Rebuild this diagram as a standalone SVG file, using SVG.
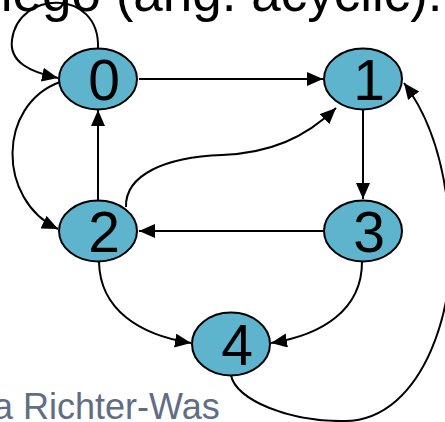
<svg xmlns="http://www.w3.org/2000/svg" width="445" height="422" viewBox="0 0 445 422">
<style>
.node{fill:#5DB4CC;stroke:#000;stroke-width:2}
.lbl{font-family:"Liberation Sans",Arial,sans-serif;font-size:57px;fill:#000;text-anchor:middle}
.edge{fill:none;stroke:#000;stroke-width:2;marker-end:url(#arr)}
.title{font-family:"Liberation Sans",Arial,sans-serif;font-size:53px;fill:#000}
.author{font-family:"Liberation Sans",Arial,sans-serif;font-size:36px;fill:#5F6D87}
</style>
<defs>
<marker id="arr" markerUnits="userSpaceOnUse" markerWidth="17" markerHeight="15" refX="16" refY="7" orient="auto">
<path d="M0,0 L16,7 L0,14 z" fill="#000"/>
</marker>
</defs>
<text class="title" x="-17" y="11">nego (ang. acyclic):</text>
<text class="author" x="-7" y="419">a Richter-Was</text>
<g id="connectors">
<path class="edge" d="M98,48 C100,-12 18,-10 12,40 C9,62 30,72 58,78"/>
<path class="edge" d="M139,79 L323,79"/>
<path class="edge" d="M363,110 L363,199"/>
<path class="edge" d="M323,231 L139,231"/>
<path class="edge" d="M98,200 L98,110"/>
<path class="edge" d="M60,82 C-3,105 -3,200 58,229"/>
<path class="edge" d="M126,207 C125,175 165,157 222,155 C270,153 305,138 336,108"/>
<path class="edge" d="M99,262 C100,310 140,335 191,343"/>
<path class="edge" d="M362,262 C362,310 322,335 271,343"/>
<path class="edge" d="M231,375 C235,400 290,422 345,421 C425,420 460,300 449,220 C445,170 432,120 404,83"/>
</g>
<g id="node0"><ellipse class="node" cx="98" cy="79" rx="39" ry="30.5"/><text class="lbl" x="104" y="99.5">0</text></g>
<g id="node1"><ellipse class="node" cx="363" cy="79" rx="39" ry="30.5"/><text class="lbl" x="369" y="99.5">1</text></g>
<g id="node2"><ellipse class="node" cx="98" cy="231" rx="39" ry="30.5"/><text class="lbl" x="104" y="251.5">2</text></g>
<g id="node3"><ellipse class="node" cx="363" cy="231" rx="39" ry="30.5"/><text class="lbl" x="369" y="251.5">3</text></g>
<g id="node4"><ellipse class="node" cx="231" cy="344" rx="39" ry="31.5"/><text class="lbl" x="237" y="364.5">4</text></g>
</svg>
